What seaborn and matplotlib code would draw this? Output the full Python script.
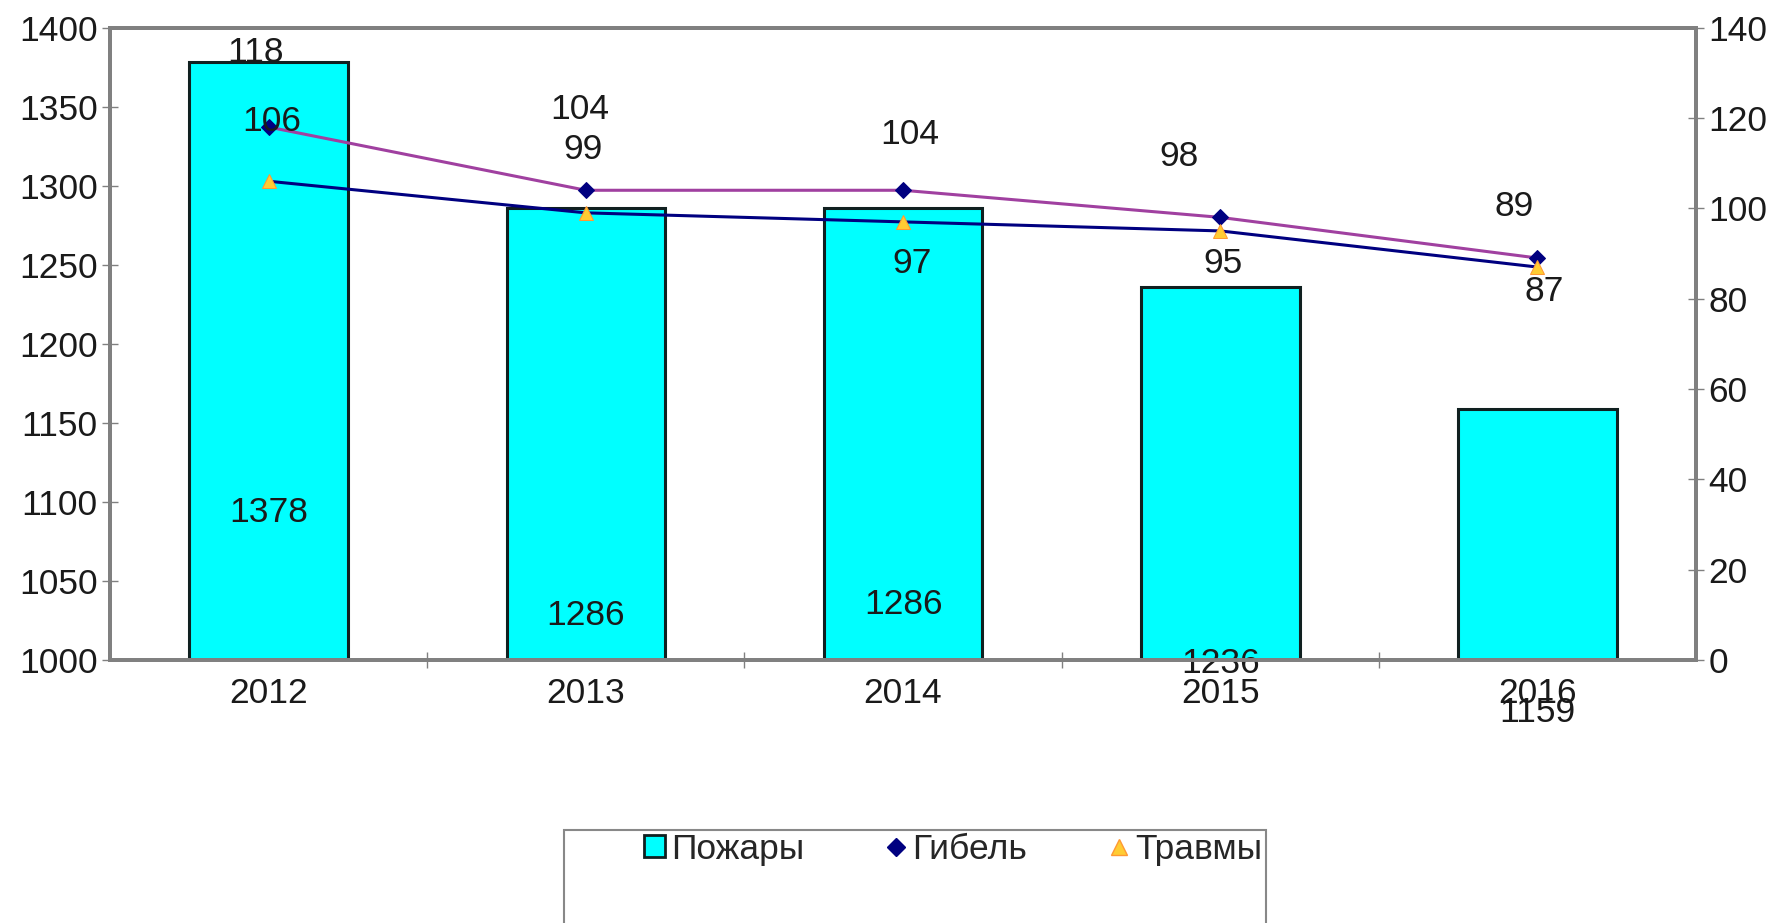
import numpy as np
import pandas as pd
import matplotlib
matplotlib.use("Agg")
import matplotlib.pyplot as plt
from matplotlib.lines import Line2D
from matplotlib.patches import Patch, Rectangle
import seaborn as sns

years = ["2012", "2013", "2014", "2015", "2016"]
fires = [1378, 1286, 1286, 1236, 1159]      # Пожары (left axis)
deaths = [118, 104, 104, 98, 89]            # Гибель (right axis)
injuries = [106, 99, 97, 95, 87]            # Травмы (right axis)

# label placement (positions only)
fire_label_y = [1093, 1028, 1035, 998, 967]
death_dx = [-0.04, -0.02, 0.02, -0.13, -0.075]
death_dy = [16.6, 17.8, 12.3, 13.5, 11.5]
inj_dx = [0.01, -0.01, 0.03, 0.01, 0.02]
inj_dy = [13.3, 14.0, -9.3, -7.3, -5.5]

sns.set_style("white")
plt.rcParams["font.family"] = ["Liberation Sans", "DejaVu Sans"]

FS = 25.5
TXT = "#1a1a1a"
GRAY = "#808080"
CYAN = "#00FFFF"
PURPLE = "#A040A0"
NAVY = "#000080"
ORANGE = "#FF9933"
YELLOW = "#FFCC33"

fig = plt.figure(figsize=(17.75, 9.23), dpi=100)
ax = fig.add_axes([0.062, 0.285, 0.8935, 0.685])

df = pd.DataFrame({"year": years, "fires": fires})
sns.barplot(data=df, x="year", y="fires", order=years, ax=ax, color=CYAN,
            width=0.5, edgecolor="#102020", linewidth=2.2, saturation=1)
ax.set_ylim(1000, 1400)
ax.set_xlim(-0.5, 4.5)
ax.set_yticks(np.arange(1000, 1401, 50))
ax.set_xlabel("")
ax.set_ylabel("")

for i, (v, ly) in enumerate(zip(fires, fire_label_y)):
    ax.text(i, ly, str(v), ha="center", va="center", fontsize=FS, color=TXT)

ax2 = ax.twinx()
x = np.arange(len(years))
sns.lineplot(x=x, y=deaths, ax=ax2, color=PURPLE, linewidth=2.2,
             marker="D", markersize=8, markerfacecolor=NAVY, markeredgecolor=NAVY)
sns.lineplot(x=x, y=injuries, ax=ax2, color=NAVY, linewidth=2.2,
             marker="^", markersize=10, markerfacecolor=YELLOW, markeredgecolor=ORANGE)
ax2.set_ylim(0, 140)
ax2.set_yticks(np.arange(0, 141, 20))
ax2.set_xlim(-0.5, 4.5)
ax2.set_ylabel("")

for i in range(len(years)):
    ax2.text(i + death_dx[i], deaths[i] + death_dy[i], str(deaths[i]),
             ha="center", va="center", fontsize=FS, color=TXT)
    ax2.text(i + inj_dx[i], injuries[i] + inj_dy[i], str(injuries[i]),
             ha="center", va="center", fontsize=FS, color=TXT)

for a in (ax, ax2):
    for s in a.spines.values():
        s.set_color(GRAY)
        s.set_linewidth(2.8)
        s.set_visible(True)

ax.tick_params(axis="y", which="major", direction="inout", length=12, width=1,
               color=GRAY, labelsize=FS, labelcolor=TXT, pad=3, left=True)
ax.tick_params(axis="x", which="major", length=0, labelsize=FS, labelcolor=TXT, pad=12)
ax.set_xticks(np.arange(0.5, 4.5, 1), minor=True)
ax.tick_params(axis="x", which="minor", direction="inout", length=12, width=1,
               color=GRAY, bottom=True)
ax2.tick_params(axis="y", direction="inout", length=12, width=1, color=GRAY,
                labelsize=FS, labelcolor=TXT, pad=3, right=True)
ax2.grid(False)
ax.grid(False)

# legend box extending below figure
fig.patches.append(Rectangle((0.318, -0.05), 0.395, 0.151, transform=fig.transFigure,
                             facecolor="white", edgecolor="#888888", linewidth=1.5))
handles = [
    Patch(facecolor=CYAN, edgecolor="#102020", linewidth=2),
    Line2D([], [], linestyle="none", marker="D", markersize=9, color=NAVY),
    Line2D([], [], linestyle="none", marker="^", markersize=11,
           markerfacecolor=YELLOW, markeredgecolor=ORANGE),
]
fig.legend(handles, ["Пожары", "Гибель", "Травмы"], loc="center",
           bbox_to_anchor=(0.537, 0.08), ncol=3, frameon=False, fontsize=FS,
           handlelength=0.6, handleheight=0.6, handletextpad=0.15, columnspacing=2.3)

fig.savefig("out.png", dpi=100)
